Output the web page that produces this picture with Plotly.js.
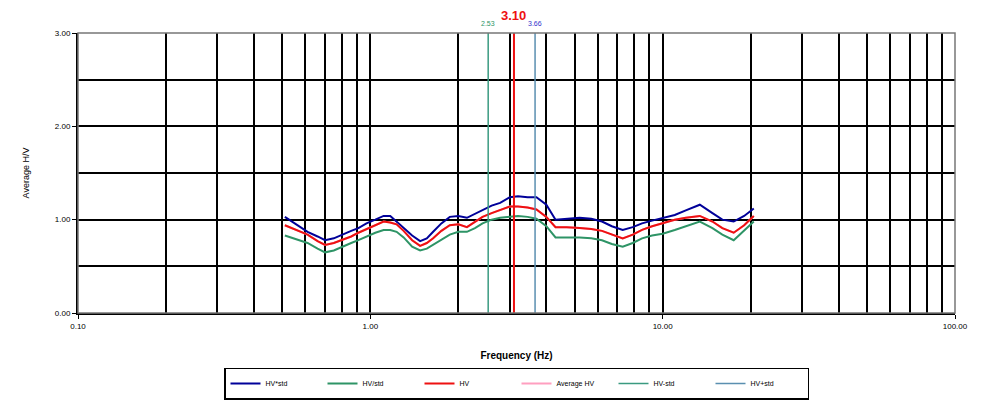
<!DOCTYPE html>
<html>
<head>
<meta charset="utf-8">
<script src="https://cdn.plot.ly/plotly-3.0.1.min.js"></script>
<style>html,body{margin:0;padding:0;background:#fff;}#chart{width:984px;height:403px;}</style>
</head>
<body>
<div id="chart"></div>
<script>
const freq = [0.51,0.56,0.61,0.66,0.70,0.75,0.80,0.86,0.91,0.97,1.04,1.11,1.17,1.23,1.30,1.39,1.48,1.56,1.64,1.75,1.87,2.00,2.14,2.28,2.42,2.60,2.78,3.00,3.20,3.45,3.70,4.00,4.30,4.70,5.20,5.70,6.20,6.70,7.30,7.90,8.50,9.20,10.0,11.0,12.0,13.4,14.8,16.0,17.5,19.0,20.5];
const hvTimesStd = [1.03,0.95,0.87,0.82,0.78,0.80,0.84,0.88,0.91,0.96,1.00,1.04,1.04,0.98,0.92,0.83,0.77,0.80,0.87,0.96,1.03,1.04,1.02,1.06,1.10,1.15,1.18,1.24,1.25,1.24,1.24,1.16,1.00,1.01,1.02,1.01,0.98,0.93,0.89,0.92,0.96,0.99,1.02,1.05,1.10,1.16,1.07,1.00,0.98,1.04,1.12];
const hv = [0.94,0.89,0.84,0.77,0.73,0.75,0.78,0.82,0.86,0.90,0.94,0.98,0.97,0.95,0.88,0.78,0.72,0.75,0.80,0.88,0.94,0.95,0.92,0.98,1.03,1.07,1.10,1.14,1.14,1.13,1.11,1.03,0.92,0.92,0.91,0.90,0.88,0.84,0.80,0.84,0.89,0.93,0.96,1.00,1.02,1.04,0.98,0.91,0.86,0.94,1.04];
const avgHv = [0.94,0.89,0.84,0.77,0.73,0.75,0.78,0.82,0.86,0.90,0.94,0.98,0.97,0.95,0.88,0.78,0.72,0.75,0.80,0.88,0.94,0.95,0.92,0.98,1.03,1.07,1.10,1.14,1.14,1.13,1.11,1.03,0.92,0.92,0.91,0.90,0.88,0.84,0.80,0.84,0.89,0.93,0.96,1.00,1.02,1.04,0.98,0.91,0.86,0.94,1.04];
const hvDivStd = [0.83,0.79,0.75,0.69,0.65,0.67,0.71,0.75,0.78,0.82,0.86,0.89,0.89,0.87,0.81,0.71,0.67,0.69,0.73,0.79,0.84,0.87,0.87,0.91,0.96,1.00,1.02,1.03,1.04,1.03,1.01,0.93,0.81,0.81,0.81,0.80,0.78,0.74,0.71,0.75,0.80,0.83,0.85,0.89,0.93,0.98,0.91,0.84,0.78,0.88,0.98];
const peakFreqs = [2.53, 3.10, 3.66];
const peakLabels = ["2.53", "3.10", "3.66"];
const vRange = [0, 3];

const traces = [
  {x: freq, y: hvTimesStd, name: 'HV*std', mode: 'lines', line: {color: '#000099', width: 2}, legendrank: 1},
  {x: freq, y: hvDivStd, name: 'HV/std', mode: 'lines', line: {color: '#2e9466', width: 2}, legendrank: 2},
  {x: freq, y: avgHv, name: 'Average HV', mode: 'lines', line: {color: '#ff9fc0', width: 2}, legendrank: 4},
  {x: freq, y: hv, name: 'HV', mode: 'lines', line: {color: '#ee1111', width: 2}, legendrank: 3},
  {x: [peakFreqs[0], peakFreqs[0]], y: vRange, name: 'HV-std', mode: 'lines', line: {color: '#3a9a80', width: 1.5}, legendrank: 5},
  {x: [peakFreqs[2], peakFreqs[2]], y: vRange, name: 'HV+std', mode: 'lines', line: {color: '#5a8fb0', width: 1.5}, legendrank: 6},
  {x: [peakFreqs[1], peakFreqs[1]], y: vRange, name: 'peak', mode: 'lines', line: {color: '#ee1111', width: 2}, showlegend: false}
];

const layout = {
  width: 984, height: 403,
  margin: {l: 78, r: 29, t: 33, b: 90},
  paper_bgcolor: '#fff', plot_bgcolor: '#fff',
  font: {family: 'Liberation Sans, Arial, sans-serif', size: 8, color: '#000'},
  showlegend: true,
  legend: {orientation: 'h', x: 0.5, xanchor: 'center', xref: 'paper', yref: 'container', y: 0.088, yanchor: 'top',
    bordercolor: '#000', borderwidth: 1.5, font: {size: 7}, entrywidth: 52, entrywidthmode: 'pixels',
    itemwidth: 30, traceorder: 'normal', tracegroupgap: 0},
  xaxis: {type: 'log', range: [-1, 2], tickvals: [0.1, 1, 10, 100], ticktext: ['0.10','1.00','10.00','100.00'],
    showgrid: true, gridcolor: '#000', gridwidth: 2,
    minor: {dtick: 'D1', showgrid: true, gridcolor: '#000', gridwidth: 2, ticks: ''},
    showline: true, linecolor: '#000', linewidth: 2, mirror: false, zeroline: false,
    ticks: 'outside', ticklen: 4, tickcolor: '#000',
    tickfont: {size: 8, family: 'Liberation Sans, Arial, sans-serif'},
    title: {text: '<b>Frequency (Hz)</b>', font: {size: 10}, standoff: 22}},
  yaxis: {range: [0, 3], dtick: 1, tickformat: '.2f',
    showgrid: true, gridcolor: '#000', gridwidth: 2,
    minor: {dtick: 0.5, showgrid: true, gridcolor: '#000', gridwidth: 2},
    showline: true, linecolor: '#000', linewidth: 2, zeroline: false,
    ticks: 'outside', ticklen: 4, tickcolor: '#000',
    tickfont: {size: 8, family: 'Liberation Sans, Arial, sans-serif'},
    title: {text: 'Average H/V', font: {size: 9}, standoff: 24}},
  shapes: [{type: 'rect', xref: 'paper', yref: 'paper', x0: 0, x1: 1, y0: 0, y1: 1, line: {color: '#777', width: 1.5}, layer: 'above'}],
  annotations: [
    {x: Math.log10(peakFreqs[0]), y: 1, xref: 'x', yref: 'paper', yanchor: 'bottom', yshift: 4, text: peakLabels[0], showarrow: false, font: {size: 7, color: '#2e9466'}},
    {x: Math.log10(peakFreqs[1]), y: 1, xref: 'x', yref: 'paper', yanchor: 'bottom', yshift: 8, text: '<b>' + peakLabels[1] + '</b>', showarrow: false, font: {size: 13, color: '#ee1111'}},
    {x: Math.log10(peakFreqs[2]), y: 1, xref: 'x', yref: 'paper', yanchor: 'bottom', yshift: 4, text: peakLabels[2], showarrow: false, font: {size: 7, color: '#3333cc'}}
  ]
};

Plotly.newPlot('chart', traces, layout, {displayModeBar: false, staticPlot: true});
</script>
</body>
</html>
